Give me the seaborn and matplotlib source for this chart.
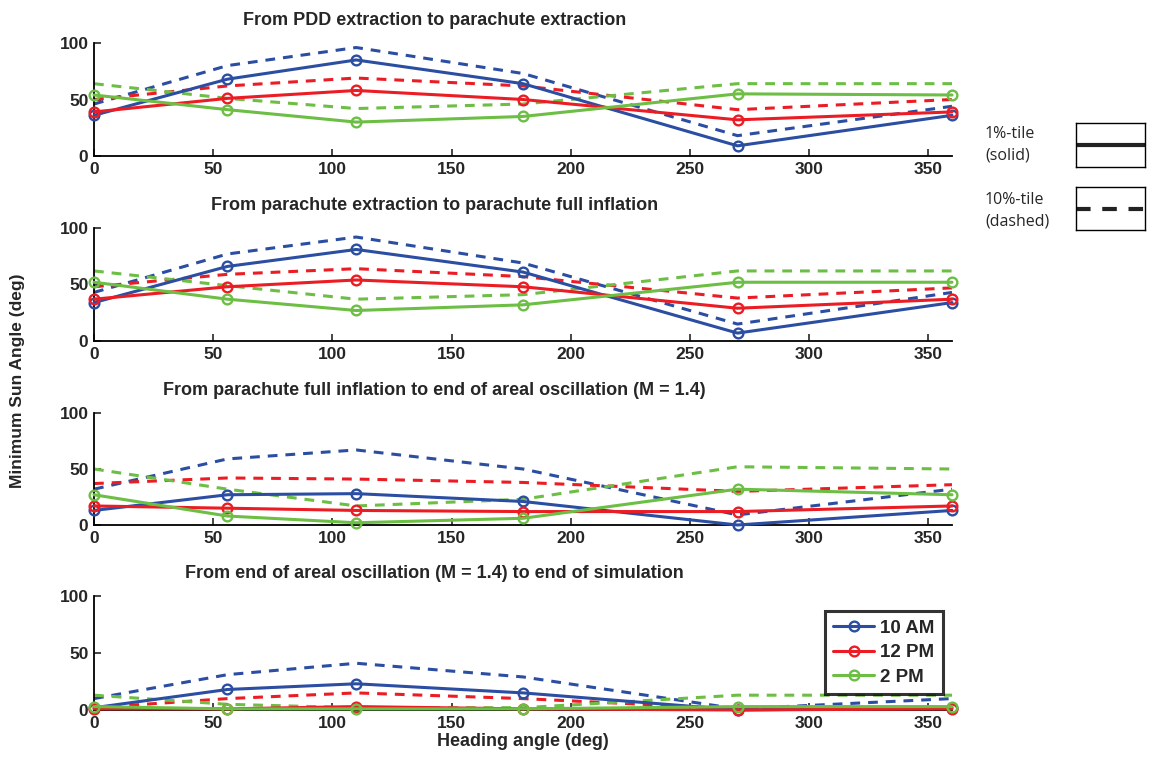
import matplotlib.pyplot as plt
import seaborn as sns
import pandas as pd

# heading angles (deg) where the sun angle was evaluated
headings = [0, 56, 110, 180, 270, 360]
times = ["10 AM", "12 PM", "2 PM"]
colors = ["#2b4ea2", "#ec1c24", "#6cbe45"]

titles = [
    "From PDD extraction to parachute extraction",
    "From parachute extraction to parachute full inflation",
    "From parachute full inflation to end of areal oscillation (M = 1.4)",
    "From end of areal oscillation (M = 1.4) to end of simulation",
]

# panel 1: PDD extraction -> parachute extraction
p1_solid_10am = [36, 68, 85, 64, 9, 36]
p1_solid_12pm = [39, 51, 58, 50, 32, 39]
p1_solid_2pm = [54, 41, 30, 35, 55, 54]
p1_dash_10am = [46, 80, 96, 73, 18, 44]
p1_dash_12pm = [50, 62, 69, 62, 41, 50]
p1_dash_2pm = [64, 51, 42, 46, 64, 64]

# panel 2: parachute extraction -> full inflation
p2_solid_10am = [34, 66, 81, 61, 7, 34]
p2_solid_12pm = [37, 48, 54, 48, 29, 37]
p2_solid_2pm = [52, 37, 27, 32, 52, 52]
p2_dash_10am = [43, 77, 92, 69, 15, 43]
p2_dash_12pm = [48, 59, 64, 57, 38, 47]
p2_dash_2pm = [62, 49, 37, 41, 62, 62]

# panel 3: full inflation -> end of areal oscillation
p3_solid_10am = [13, 27, 28, 21, 0, 13]
p3_solid_12pm = [17, 15, 13, 12, 12, 17]
p3_solid_2pm = [27, 8, 2, 6, 32, 27]
p3_dash_10am = [32, 59, 67, 50, 9, 32]
p3_dash_12pm = [37, 42, 41, 38, 30, 36]
p3_dash_2pm = [50, 32, 17, 23, 52, 50]

# panel 4: end of areal oscillation -> end of simulation
p4_solid_10am = [2, 18, 23, 15, 0, 2]
p4_solid_12pm = [1, 1, 3, 1, 0, 1]
p4_solid_2pm = [3, 1, 1, 1, 3, 3]
p4_dash_10am = [10, 31, 41, 29, 1, 10]
p4_dash_12pm = [2, 10, 15, 10, 1, 2]
p4_dash_2pm = [13, 5, 2, 2, 13, 13]

panels = [
    ([p1_solid_10am, p1_solid_12pm, p1_solid_2pm], [p1_dash_10am, p1_dash_12pm, p1_dash_2pm]),
    ([p2_solid_10am, p2_solid_12pm, p2_solid_2pm], [p2_dash_10am, p2_dash_12pm, p2_dash_2pm]),
    ([p3_solid_10am, p3_solid_12pm, p3_solid_2pm], [p3_dash_10am, p3_dash_12pm, p3_dash_2pm]),
    ([p4_solid_10am, p4_solid_12pm, p4_solid_2pm], [p4_dash_10am, p4_dash_12pm, p4_dash_2pm]),
]


def to_frame(series):
    rows = []
    for t, vals in zip(times, series):
        for h, v in zip(headings, vals):
            rows.append({"Heading": h, "Angle": v, "Time": t})
    return pd.DataFrame(rows)


def main():
    sns.set_theme(style="white")
    plt.rcParams["font.family"] = ["Liberation Sans", "DejaVu Sans"]

    fig = plt.figure(figsize=(11.52, 7.62), dpi=100)
    W, H = 1152, 762
    left, right = 94 / W, 952 / W
    tops = [43, 228, 413, 596]
    bots = [156, 341, 525, 710]
    palette = dict(zip(times, colors))

    axes = []
    solid_lines = []
    for i, (solid, dashed) in enumerate(panels):
        ax = fig.add_axes([left, 1 - bots[i] / H, right - left, (bots[i] - tops[i]) / H])
        axes.append(ax)

        n0 = len(ax.get_lines())
        sns.lineplot(data=to_frame(solid), x="Heading", y="Angle", hue="Time",
                     palette=palette, linewidth=2.2, legend=False, ax=ax)
        sl = ax.get_lines()[n0:]
        for ln in sl:
            ln.set_marker("o")
            ln.set_markersize(7)
            ln.set_markerfacecolor("none")
            ln.set_markeredgecolor(ln.get_color())
            ln.set_markeredgewidth(1.7)
            ln.set_linestyle("-")
            ln.set_clip_on(False)
            ln.set_zorder(3)
        solid_lines = sl

        n1 = len(ax.get_lines())
        sns.lineplot(data=to_frame(dashed), x="Heading", y="Angle", hue="Time",
                     palette=palette, linewidth=2.2, legend=False, ax=ax)
        for ln in ax.get_lines()[n1:]:
            ln.set_marker("None")
            ln.set_linestyle((0, (3.2, 2.6)))
            ln.set_clip_on(False)
            ln.set_zorder(2)

        ax.set_xlim(0, 360)
        ax.set_ylim(0, 100)
        ax.set_xticks(range(0, 351, 50))
        ax.set_yticks([0, 50, 100])
        ax.tick_params(direction="in", length=5, width=1.2, labelsize=12.5,
                       bottom=True, left=True, pad=4)
        for lab in ax.get_xticklabels() + ax.get_yticklabels():
            lab.set_fontweight("bold")
        for s in ["top", "right"]:
            ax.spines[s].set_visible(False)
        for s in ["left", "bottom"]:
            ax.spines[s].set_color("black")
            ax.spines[s].set_linewidth(1.3)
        ax.set_xlabel("")
        ax.set_ylabel("")
        ax.set_title(titles[i], fontsize=13, fontweight="bold", x=0.397, pad=13)

    ax4 = axes[-1]
    ax4.set_xlabel("Heading angle (deg)", fontsize=13, fontweight="bold", labelpad=2)
    leg = ax4.legend(handles=solid_lines, labels=times, loc="upper right",
                     bbox_to_anchor=(1.0, 0.95), frameon=True, fancybox=False,
                     edgecolor="black", prop={"weight": "bold", "size": 13.5},
                     handlelength=2.2, borderpad=0.45, labelspacing=0.4, handletextpad=0.3)
    leg.get_frame().set_linewidth(2.2)

    fig.text(18 / W, 0.5, "Minimum Sun Angle (deg)", rotation=90, ha="center",
             va="center", fontsize=12.5, fontweight="bold")

    # line-style key on the right
    side_font = ["Open Sans", "DejaVu Sans"]
    fig.text(985 / W, 1 - 145 / H, "1%-tile\n(solid)", fontsize=11.5, family=side_font,
             va="center", ha="left", linespacing=1.45)
    fig.text(985 / W, 1 - 211 / H, "10%-tile\n(dashed)", fontsize=11.5, family=side_font,
             va="center", ha="left", linespacing=1.45)
    for y0, y1, style in [(123, 167, "-"), (187, 230, (0, (3.5, 2.8)))]:
        kax = fig.add_axes([1076 / W, 1 - y1 / H, 69 / W, (y1 - y0) / H])
        kax.axhline(0.5, color="#222222", linewidth=3, linestyle=style)
        kax.set_xlim(0, 1)
        kax.set_ylim(0, 1)
        kax.set_xticks([])
        kax.set_yticks([])
        for s in kax.spines.values():
            s.set_color("black")
            s.set_linewidth(1)

    fig.savefig("out.png", dpi=100)


if __name__ == "__main__":
    main()
